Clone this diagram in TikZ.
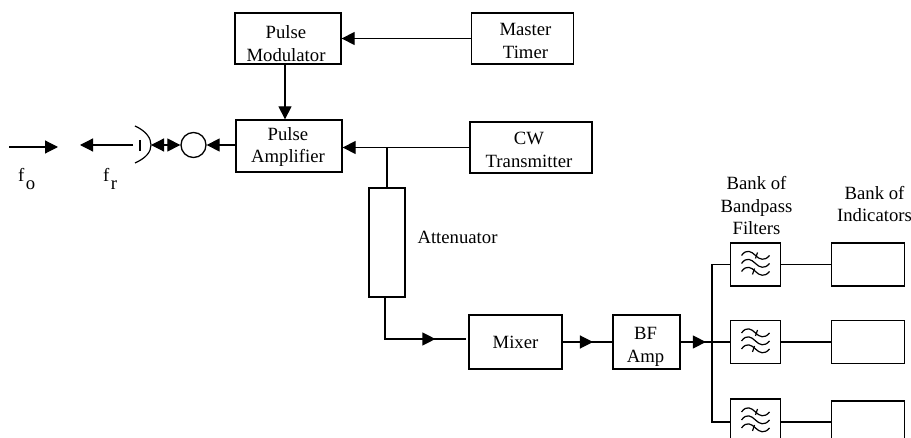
\documentclass[tikz,border=0pt]{standalone}
\usepackage{fontspec}
\setmainfont{Liberation Serif}
\usetikzlibrary{arrows.meta,decorations.markings,calc}
\tikzset{
  lbl/.style={align=center,inner sep=0pt,font=\fontsize{18.7}{22.5}\selectfont},% free text
  box/.style={draw=black,line width=1.3pt,inner sep=0pt},% block
  say/.style n args={3}{label={[lbl,xshift=#1pt,yshift=#2pt]center:#3}},% text in a block
  sig/.style={draw=black,line width=1.2pt},
  tip/.style={sig,-{Triangle[length=13pt,width=13pt]}},
  twotip/.style={sig,{Triangle[length=13pt,width=13pt]}-{Triangle[length=13pt,width=13pt]}},
  midtip/.style={sig,postaction={decorate},decoration={markings,mark=at position #1 with {\arrow{Triangle[length=13pt,width=13pt]}}}},
  wave/.style={draw=black,line width=1.2pt},
  filtbox/.style={box,minimum width=49.5pt,minimum height=43pt},
  indbox/.style={box,minimum width=73.5pt,minimum height=43pt},
  pics/lowpass/.style={code={
    \foreach \yy in {-8,0,8}
      \draw[wave] (-14,\yy) .. controls (-9,\yy-7) and (-4,\yy-4) .. (0,\yy) .. controls (4,\yy+4) and (9,\yy+6) .. (14,\yy);
    \draw[wave] (0,-5) -- (2,-11);
    \draw[wave] (-3,11) -- (-1,5);
  }},
}
\begin{document}
\begin{tikzpicture}[x=1pt,y=-1pt]
  \useasboundingbox (0,0) rectangle (911,438);
  \clip (0,0) rectangle (911,438);
  % transmit chain
  \node[box,minimum width=106pt,minimum height=51pt,say={-2}{-5}{Pulse\\Modulator}] (pmod) at (288,38.5) {};
  \node[box,minimum width=102pt,minimum height=51pt,say={3}{-2.5}{Master\\Timer}] (mtimer) at (522.5,38.5) {};
  \node[box,minimum width=106pt,minimum height=52pt,say={-1}{-1}{Pulse\\Amplifier}] (pamp) at (289,146) {};
  \node[box,minimum width=122pt,minimum height=51pt,say={-2}{-2.5}{CW\\Transmitter}] (cw) at (531,147.5) {};
  \node[box,minimum width=36pt,minimum height=109pt] (att) at (387,242.5) {};
  \node[box,minimum width=93pt,minimum height=54pt,say={0}{0}{Mixer}] (mixer) at (515.5,342) {};
  \node[box,minimum width=67pt,minimum height=54pt,say={-1}{-5}{BF\\Amp}] (bfamp) at (646.5,342) {};
  \node[draw=black,line width=1.3pt,circle,minimum size=25pt,inner sep=0pt] (circ) at (193.5,145) {};
  % filters and indicators
  \node[filtbox] (filta) at (755.5,264.5) {};
  \node[filtbox] (filtb) at (755.5,342) {};
  \node[filtbox,minimum height=46pt] (filtc) at (755.5,422) {};
  \node[indbox] (inda) at (868,264.5) {};
  \node[indbox] (indb) at (868,342) {};
  \node[indbox] (indc) at (868,422.5) {};
  \pic[yshift=1pt] at (filta) {lowpass};
  \pic[yshift=1pt] at (filtb) {lowpass};
  \pic[yshift=2pt] at (filtc) {lowpass};
  % labels
  \node[lbl] (lblatt) at (457.5,237) {Attenuator};
  \node[lbl] (lblfilt) at (756.5,206) {Bank of\\Bandpass\\Filters};
  \node[lbl] (lblind) at (874.5,204) {Bank of\\Indicators};
  \node[lbl,anchor=base west] (lblfo) at (18,182) {f\kern1.5pt\raisebox{-8pt}{o}};
  \node[lbl,anchor=base west] (lblfr) at (103,182) {f\kern1.5pt\raisebox{-8pt}{r}};
  % antenna and free arrows
  \coordinate (dish) at (151,145);
  \coordinate (foa) at (9,147);
  \coordinate (fob) at (58,147);
  \coordinate (fra) at (133,145);
  \coordinate (frb) at (80,145);
  \draw[sig] (135,126) .. controls (146,131) and (151,138) .. (dish) .. controls (151,152) and (146,158) .. (135,163);
  \draw[sig] (140,140) -- (140,151);
  \draw[tip] (foa) -- (fob);
  \draw[tip] (fra) -- (frb);
  \draw[twotip] (dish) -- (circ.west);
  % connectors
  \draw[tip] (mtimer.west) -- (pmod.east);
  \draw[tip] ([xshift=-3pt]pmod.south) -- ([xshift=-4pt]pamp.north);
  \draw[tip] (pamp.west|-circ.east) -- (circ.east);
  \draw[tip] (cw.west) -- (pamp.east|-cw.west);
  \draw[sig] (att.north) -- (att.north|-cw.west);
  \coordinate (mixin) at (466,339);
  \draw[midtip=0.75] ([xshift=-2pt]att.south) |- (mixin);
  \draw[midtip=0.61] (mixer.east) -- (bfamp.west);
  \draw[midtip=0.51] (bfamp.east) -- (filtb.west);
  \coordinate (bus) at (712,342);
  \draw[sig] (filta.west) -| (bus) |- (filtc.west);
  \draw[sig] (filta.east) -- (inda.west);
  \draw[sig] (filtb.east) -- (indb.west);
  \draw[sig] (filtc.east) -- (indc.west|-filtc.east);
\end{tikzpicture}
\end{document}
